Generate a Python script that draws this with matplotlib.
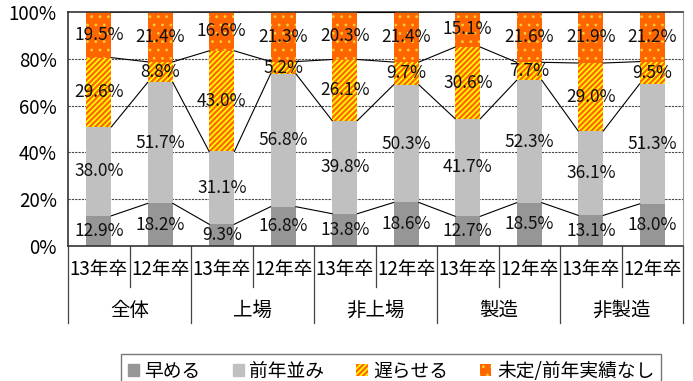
import matplotlib
matplotlib.use("Agg")
import matplotlib.pyplot as plt
from matplotlib.patches import Patch
import numpy as np

plt.rcParams['font.family'] = ['Noto Sans CJK JP', 'DejaVu Sans']
plt.rcParams['hatch.linewidth'] = 1.5

groups = ["全体", "上場", "非上場", "製造", "非製造"]
years = ["13年卒", "12年卒"]
series_names = ["早める", "前年並み", "遅らせる", "未定/前年実績なし"]
hayameru = [12.9, 18.2, 9.3, 16.8, 13.8, 18.6, 12.7, 18.5, 13.1, 18.0]
zennen = [38.0, 51.7, 31.1, 56.8, 39.8, 50.3, 41.7, 52.3, 36.1, 51.3]
okuraseru = [29.6, 8.8, 43.0, 5.2, 26.1, 9.7, 30.6, 7.7, 29.0, 9.5]
mitei = [19.5, 21.4, 16.6, 21.3, 20.3, 21.4, 15.1, 21.6, 21.9, 21.2]
yticks = [0, 20, 40, 60, 80, 100]

W, H = 693, 381
fig = plt.figure(figsize=(W / 100, H / 100), dpi=100)
ax = fig.add_axes([68 / W, (H - 246) / H, (683 - 68) / W, (246 - 12) / H])

data = [hayameru, zennen, okuraseru, mitei]
n = len(hayameru)
x = np.arange(n)
bw = 0.41
styles = [
    dict(color="#969696"),
    dict(color="#C0C0C0"),
    dict(facecolor="#FFFF00", edgecolor="#FF6600", hatch="//////", linewidth=0),
    dict(facecolor="#FF6600", edgecolor="#FFCC33", hatch="..", linewidth=0),
]
hatch_lw = [None, None, 1.6, 0.8]


def set_hlw(patches, lw):
    if lw is None:
        return
    for p in patches:
        try:
            p.set_hatch_linewidth(lw)
        except Exception:
            p._hatch_linewidth = lw


bottom = np.zeros(n)
for vals, st, hl in zip(data, styles, hatch_lw):
    vals = np.array(vals)
    bars = ax.bar(x, vals, bw, bottom=bottom, zorder=2, **st)
    set_hlw(bars, hl)
    for xi, b, v in zip(x, bottom, vals):
        ax.text(xi, b + v / 2, f"{v:.1f}%", ha="center", va="center",
                fontsize=12.5, color="#111111", zorder=4)
    bottom = bottom + vals
    if not np.allclose(bottom, 100):
        for i in range(n - 1):
            ax.plot([x[i] + bw / 2, x[i + 1] - bw / 2], [bottom[i], bottom[i + 1]],
                    color="black", lw=0.8, zorder=3)

ax.set_xlim(-0.5, n - 0.5)
ax.set_ylim(0, 100)
ax.set_yticks(yticks, [f"{v}%" for v in yticks], fontsize=13.5)
for v in yticks[1:-1]:
    ax.axhline(v, color="#444444", lw=0.8, ls=(0, (2, 1)), zorder=1)
ax.tick_params(axis="y", length=0, pad=8)
ax.set_xticks(x, [years[i % 2] for i in range(n)], fontsize=13.5)
ax.tick_params(axis="x", length=0, pad=9)
for s in ["left", "bottom", "top"]:
    ax.spines[s].set_color("#333333")
    ax.spines[s].set_linewidth(1.2)
ax.spines["right"].set_color("#999999")

tr = ax.get_xaxis_transform()
for i in range(n + 1):
    xp = i - 0.5
    yend = -0.33 if i % 2 == 0 else -0.175
    ax.plot([xp, xp], [0, yend], transform=tr, color="#444444", lw=0.9, clip_on=False)
for g, name in enumerate(groups):
    ax.text(2 * g + 0.5, -0.275, name, transform=tr, ha="center", va="center", fontsize=14)

handles = [Patch(**st) for st in styles]
leg = fig.legend(handles, series_names, ncol=4, loc="upper center",
                 bbox_to_anchor=(391 / W, (H - 345) / H), fontsize=13.5,
                 handlelength=0.6, handleheight=0.6, handletextpad=0.3,
                 columnspacing=1.7, frameon=True, fancybox=False,
                 borderpad=0.35)
leg.get_frame().set_edgecolor("#555555")
leg.get_frame().set_linewidth(1.0)
for h, hl in zip(leg.get_patches(), hatch_lw):
    set_hlw([h], hl)

fig.savefig("out.png", dpi=100)
